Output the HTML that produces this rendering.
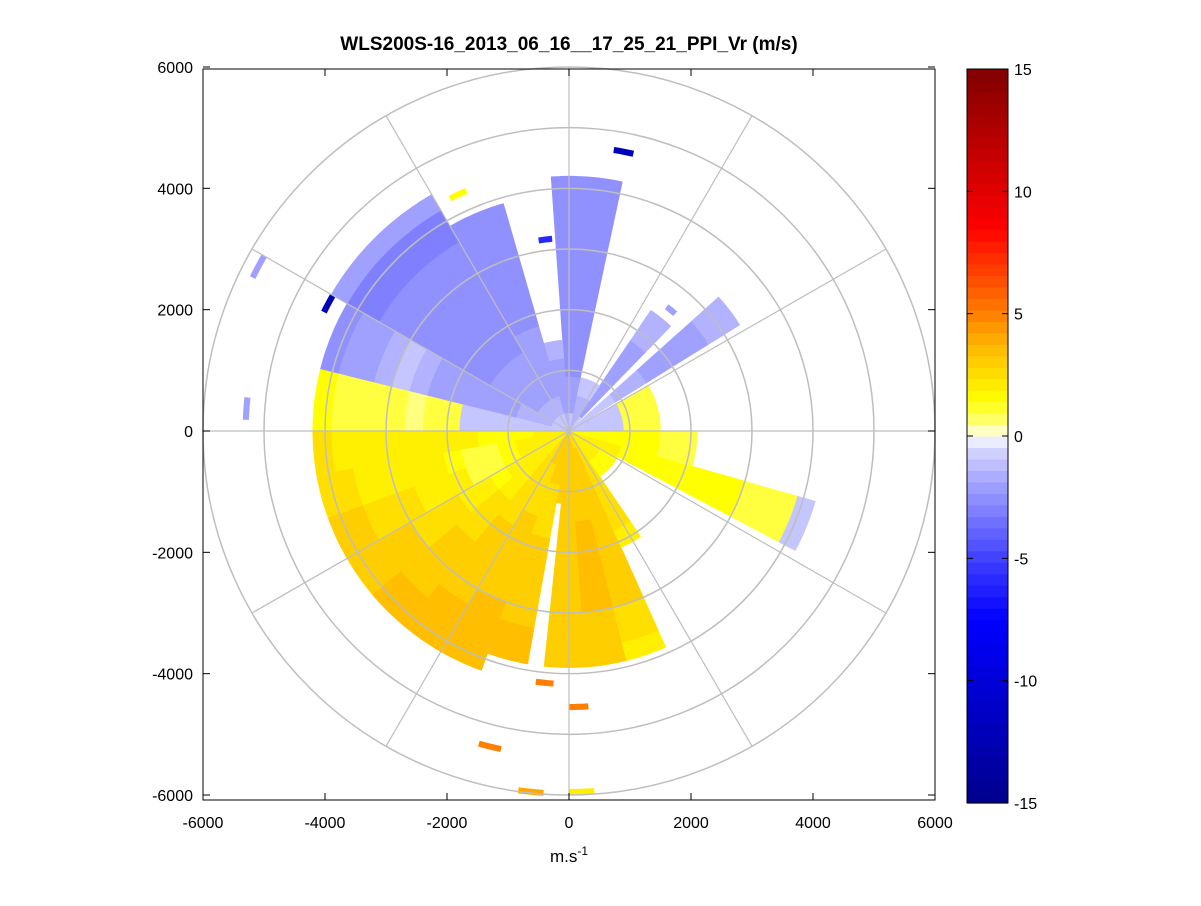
<!DOCTYPE html>
<html><head><meta charset="utf-8"><style>
body{margin:0;background:#fff;}
svg text{font-family:"Liberation Sans",sans-serif;}
</style></head><body>
<svg id="chart" width="1201" height="901" viewBox="0 0 1201 901" xmlns="http://www.w3.org/2000/svg">
<rect width="1201" height="901" fill="#fff"/>
<g id="cells"></g>
<g id="grid"></g>
<g id="axes"></g>
<g id="cbar"></g>
<text x="569" y="50" font-size="19" font-weight="bold" text-anchor="middle">WLS200S-16_2013_06_16__17_25_21_PPI_Vr (m/s)</text>
<text x="569" y="862" font-size="17" text-anchor="middle">m.s<tspan dy="-7" font-size="12">-1</tspan></text>
</svg>
<script>
// ---- data ----
const binSize = 300;
const secStart = [260,250,240,230,220,210,200,190,186,176,166,156,146,118,106,90,60,48,34,12,356,344,330,300,284,270];
const secEnd   = [270,260,250,240,230,220,210,200,190,186,176,166,156,146,118,106,90,58,44,34,372,356,344,330,300,284];
const secValues = [
 [2,2,1.5,1.5,1.5,2,2,2,2,2,2,2,2,2.5],
 [2,2,2,1.5,1,1,1.5,2,2,2,2,2,2.5,2.5],
 [2,2,2,1.5,1,1,2,2,2,2.5,2.5,2.5,3,3],
 [2,2,2,2,1.5,2,2,2.5,2.5,2.5,3,3,3,3],
 [2,2,2,2,2,2.5,2.5,2.5,3,3,3,3,3.5,3.5],
 [2.5,2.5,2.5,2.5,2.5,2.5,3,3,3,3,3,3.5,3.5,3.5],
 [3,3,2.5,2.5,2.5,3,3,3,3,3,3.5,3.5,3.5,3.5],
 [3,3,3,2.5,2.5,2.5,3,3,3,3,3,3.5,3.5],
 [3,3,3,3,null],
 [3,3,3,3,3,3,3,3,3,3,3,3,3],
 [3,3,3,3,3,3.5,3.5,3.5,3.5,3.5,3,3,3],
 [2.5,3,3,3,3,3,3,3,3,3,2.5,2.5,2],
 [2.5,2.5,2.5,2.5,2.5,2.5,2],
 [2,2,1.5],
 [2,2,2,1.5,1.5,1.5,1.5,1.5,1.5,1.5,1,1,1,-1],
 [1.5,1.5,1.5,1.5,1.5,1,1],
 [-1,-1,-1,1,1],
 [-1,-1,-1,-1.5,-1.5,-2,-2,-2,-2,-1.5,-1.5],
 [-1,-2,-2,-2,-2,-2,-1.5,-1.5],
 [-1.5,-1.5,-1],
 [-1,-2,-2,-2.5,-2.5,-2.5,-2.5,-2.5,-2.5,-2.5,-2.5,-2.5,-2.5,-2.5],
 [-1.5,-2,-2,-2,-1.5],
 [-1,-1.5,-2,-2,-2,-2,-2.5,-2.5,-2.5,-2.5,-2.5,-2.5,-2.5],
 [-1,-1.5,-2,-2,-2,-2.5,-2.5,-2.5,-2.5,-2.5,-2.5,-2.5,-3,-3,-2],
 [-1,-1.5,-1.5,-2,-2,-2,-2,-2,-1.5,-1,-1.5,-2,-2,-2.5],
 [-1,-1,-1,-1,-1,-1,1,1,0.5,1,1,1,1,1.5]
];
const blkAz = [11,298,353,298,274,194,185.5,178,186,178,335,40];
const blkR  = [4690,4470,3180,5770,5300,5360,4170,4550,5980,5950,4300,2600];
const blkV  = [-12,-12,-6,-2,-2,5,5,5,4,2,1.5,-2];
const cbTicks = [15,10,5,0,-5,-10,-15];
const xTicks = [-6000,-4000,-2000,0,2000,4000,6000];
const yTicks = [6000,4000,2000,0,-2000,-4000,-6000];

// ---- geometry ----
const cx=569, cy=431, sx=366/6000, sy=364/6000;
const NS='http://www.w3.org/2000/svg';
function X(x){return cx+x*sx;}
function Y(y){return cy-y*sy;}
function pt(az,r){const a=az*Math.PI/180;return [X(r*Math.sin(a)),Y(r*Math.cos(a))];}
const stops=[[-15,0,0,140],[-7.5,0,0,255],[-5,64,64,255],[-2,160,160,255],[-0.5,215,215,255],[0,255,255,255],[0.5,255,255,128],[1.5,255,255,0],[3.5,255,190,0],[5,255,128,0],[8.5,255,0,0],[15,128,0,0]];
function cmap(v){
  v=Math.max(-15,Math.min(15,v));
  for(let i=0;i<stops.length-1;i++){const a=stops[i],b=stops[i+1];
    if(v<=b[0]){const t=(v-a[0])/(b[0]-a[0]||1);
      return `rgb(${Math.round(a[1]+t*(b[1]-a[1]))},${Math.round(a[2]+t*(b[2]-a[2]))},${Math.round(a[3]+t*(b[3]-a[3]))})`;}}
  return 'rgb(128,0,0)';
}
function wedge(a0,a1,r0,r1){
  if(a1<a0) a1+=360;
  let d='';const n=Math.max(2,Math.ceil(a1-a0));
  for(let i=0;i<=n;i++){const p=pt(a0+(a1-a0)*i/n,r1);d+=(i?'L':'M')+p[0].toFixed(1)+','+p[1].toFixed(1);}
  for(let i=n;i>=0;i--){const p=pt(a0+(a1-a0)*i/n,r0);d+='L'+p[0].toFixed(1)+','+p[1].toFixed(1);}
  return d+'Z';
}
const cells=document.getElementById('cells');
secValues.forEach((vals,s)=>{
  vals.forEach((v,b)=>{
    if(v===null) return;
    const p=document.createElementNS(NS,'path');
    p.setAttribute('d',wedge(secStart[s],secEnd[s],b*binSize,(b+1)*binSize));
    p.setAttribute('fill',cmap(v));p.setAttribute('stroke',cmap(v));p.setAttribute('stroke-width','0.6');
    
    
    cells.appendChild(p);
  });
});
blkAz.forEach((az,i)=>{
  const p=document.createElementNS(NS,'path');
  p.setAttribute('d',wedge(az-2,az+2,blkR[i]-50,blkR[i]+50));
  p.setAttribute('fill',cmap(blkV[i]));
  
  
  cells.appendChild(p);
});
// grid
const grid=document.getElementById('grid');
for(let r=1000;r<=6000;r+=1000){
  const e=document.createElementNS(NS,'ellipse');
  e.setAttribute('cx',cx);e.setAttribute('cy',cy);e.setAttribute('rx',r*sx);e.setAttribute('ry',r*sy);
  e.setAttribute('fill','none');e.setAttribute('stroke','#bebebe');e.setAttribute('stroke-width','1.5');
  
  
  grid.appendChild(e);
}
for(let a=0;a<360;a+=30){
  const p=pt(a,6000);const l=document.createElementNS(NS,'line');
  l.setAttribute('x1',cx);l.setAttribute('y1',cy);l.setAttribute('x2',p[0]);l.setAttribute('y2',p[1]);
  l.setAttribute('stroke','#bebebe');l.setAttribute('stroke-width','1.2');
  
  
  grid.appendChild(l);
}
// axes
const ax=document.getElementById('axes');
let h=`<rect x="203" y="69" width="732" height="731" fill="none" stroke="#000" stroke-width="1"/>`;
xTicks.forEach(t=>{const x=X(t);h+=`<line x1="${x}" y1="800" x2="${x}" y2="793" stroke="#000"/><line x1="${x}" y1="69" x2="${x}" y2="76" stroke="#000"/><text x="${x}" y="828" font-size="16" text-anchor="middle">${t}</text>`;});
yTicks.forEach(t=>{const y=Math.min(Y(t),797);h+=`<line x1="203" y1="${y}" x2="210" y2="${y}" stroke="#000"/><line x1="935" y1="${y}" x2="928" y2="${y}" stroke="#000"/><text x="193" y="${y+6}" font-size="16" text-anchor="end">${t}</text>`;});
ax.innerHTML=h;
// colorbar
const cb=document.getElementById('cbar');
const cbTop=69,cbBot=803,cbL=967,cbW=41,nLev=64;
let c='';
for(let i=0;i<nLev;i++){const v=-15+(i+0.5)*30/nLev;const y0=cbBot-(i+1)*(cbBot-cbTop)/nLev;
  c+=`<rect x="${cbL}" y="${y0.toFixed(2)}" width="${cbW}" height="${((cbBot-cbTop)/nLev+0.6).toFixed(2)}" fill="${cmap(v)}"/>`;}
c+=`<rect x="${cbL}" y="${cbTop}" width="${cbW}" height="${cbBot-cbTop}" fill="none" stroke="#000"/>`;
cbTicks.forEach(t=>{const y=cbBot-(t+15)/30*(cbBot-cbTop);
  c+=`<line x1="${cbL}" y1="${y}" x2="${cbL+6}" y2="${y}" stroke="#000"/><line x1="${cbL+cbW}" y1="${y}" x2="${cbL+cbW-6}" y2="${y}" stroke="#000"/><text x="${cbL+cbW+6}" y="${y+6}" font-size="16">${t}</text>`;});
cb.innerHTML=c;
</script>
</body></html>
